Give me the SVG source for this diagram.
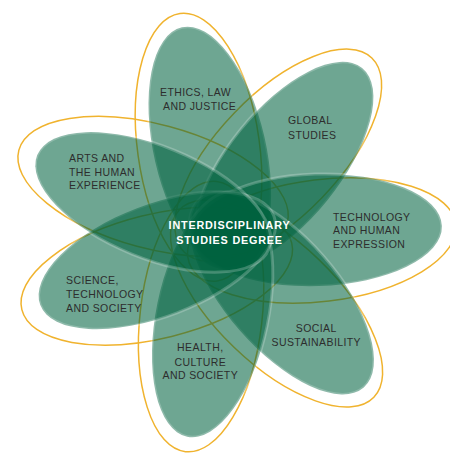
<svg xmlns="http://www.w3.org/2000/svg" width="450" height="456" viewBox="0 0 450 456">
<style>
.ring{fill:none;stroke:#f0b32e;stroke-width:1.5}
.petal{fill:#00633f;fill-opacity:0.57;stroke:#ffffff;stroke-opacity:0.22;stroke-width:3}
.lbl{font-family:"Liberation Sans",Arial,sans-serif;font-size:10.5px;letter-spacing:0.4px;fill:#2d2d2d}
.mid{text-anchor:middle}
.ctr{font-family:"Liberation Sans",Arial,sans-serif;font-size:10.8px;font-weight:bold;letter-spacing:0.8px;fill:#ffffff;text-anchor:middle}
</style>
<rect width="450" height="456" fill="#ffffff"/>
<g id="outlines">
<g transform="translate(229 233) rotate(-102.9)"><ellipse class="ring" cx="90" cy="0" rx="135" ry="61" transform="rotate(5 211 0)"/></g>
<g transform="translate(229 233) rotate(-51.1)"><ellipse class="ring" cx="91" cy="0" rx="135" ry="61" transform="rotate(5 212 0)"/></g>
<g transform="translate(229 233) rotate(-1.9)"><ellipse class="ring" cx="92" cy="0" rx="135" ry="61" transform="rotate(-5 213 0)"/></g>
<g transform="translate(229 233) rotate(48.9)"><ellipse class="ring" cx="84" cy="0" rx="135" ry="61" transform="rotate(-5 205 0)"/></g>
<g transform="translate(229 233) rotate(101.6)"><ellipse class="ring" cx="87" cy="0" rx="136" ry="61" transform="rotate(-5 208 0)"/></g>
<g transform="translate(229 233) rotate(159.1)"><ellipse class="ring" cx="82" cy="0" rx="139" ry="62" transform="rotate(7 202 0)"/></g>
<g transform="translate(229 233) rotate(202.1)"><ellipse class="ring" cx="87" cy="0" rx="139" ry="62" transform="rotate(-7 207 0)"/></g>
</g>
<g id="ethics">
<ellipse class="petal" cx="86" cy="0" rx="125" ry="56" transform="translate(229 233) rotate(-102.9)"/>
<text class="lbl"><tspan x="160" y="95.7">ETHICS, LAW</tspan><tspan x="163" y="110.3">AND JUSTICE</tspan></text>
</g>
<g id="global">
<ellipse class="petal" cx="87" cy="0" rx="125" ry="56" transform="translate(229 233) rotate(-51.1)"/>
<text class="lbl"><tspan x="288" y="124.3">GLOBAL</tspan><tspan x="288" y="138.7">STUDIES</tspan></text>
</g>
<g id="technology">
<ellipse class="petal" cx="88" cy="0" rx="125" ry="56" transform="translate(229 233) rotate(-1.9)"/>
<text class="lbl"><tspan x="333" y="220.7">TECHNOLOGY</tspan><tspan x="333" y="234.3">AND HUMAN</tspan><tspan x="333" y="247.7">EXPRESSION</tspan></text>
</g>
<g id="social">
<ellipse class="petal" cx="80" cy="0" rx="125" ry="56" transform="translate(229 233) rotate(48.9)"/>
<text class="lbl mid"><tspan x="316.3" y="332.3">SOCIAL</tspan><tspan x="316.3" y="346">SUSTAINABILITY</tspan></text>
</g>
<g id="health">
<ellipse class="petal" cx="83" cy="0" rx="125" ry="56" transform="translate(229 233) rotate(101.6)"/>
<text class="lbl mid"><tspan x="200.3" y="351">HEALTH,</tspan><tspan x="200.3" y="365.7">CULTURE</tspan><tspan x="200.3" y="378.7">AND SOCIETY</tspan></text>
</g>
<g id="science">
<ellipse class="petal" cx="77" cy="0" rx="125" ry="56" transform="translate(229 233) rotate(159.1)"/>
<text class="lbl"><tspan x="66" y="284.3">SCIENCE,</tspan><tspan x="66" y="297.7">TECHNOLOGY</tspan><tspan x="66" y="311.7">AND SOCIETY</tspan></text>
</g>
<g id="arts">
<ellipse class="petal" cx="82" cy="0" rx="125" ry="56" transform="translate(229 233) rotate(202.1)"/>
<text class="lbl"><tspan x="69" y="162.3">ARTS AND</tspan><tspan x="69" y="175.7">THE HUMAN</tspan><tspan x="69" y="189.3">EXPERIENCE</tspan></text>
</g>
<g id="center">
<text class="ctr"><tspan x="229.5" y="229.3">INTERDISCIPLINARY</tspan><tspan x="229.5" y="244.3">STUDIES DEGREE</tspan></text>
</g>
</svg>
